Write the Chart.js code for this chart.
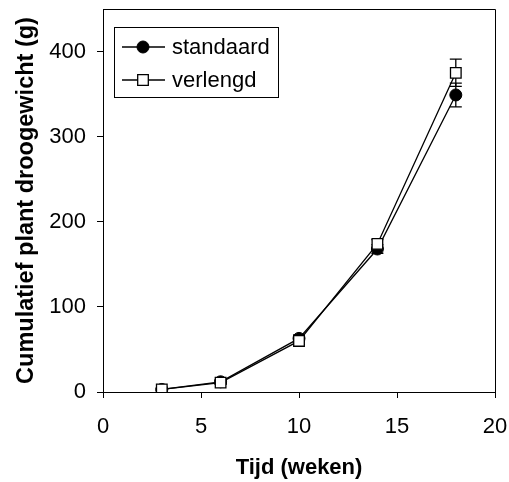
<!DOCTYPE html>
<html>
<head>
<meta charset="utf-8">
<script src="https://cdn.jsdelivr.net/npm/chart.js@4/dist/chart.umd.min.js"></script>
<style>
  html, body { margin: 0; padding: 0; background: #fff; }
  #wrap { width: 509px; height: 482px; }
</style>
</head>
<body>
<div id="wrap"><canvas id="chart" width="509" height="482"></canvas></div>
<script>
// data
const weeks = [3, 6, 10, 14, 18];
const standaard = [3, 12, 63, 168, 349];
const standaardErr = [1, 2, 4, 5, 14];
const verlengd = [3, 11, 60, 174, 375];
const verlengdErr = [1, 2, 4, 5, 16];
const xTicks = [0, 5, 10, 15, 20];
const yTicks = [0, 100, 200, 300, 400];

const FONT = "'Liberation Sans', Arial, sans-serif";

function points(ys) {
    return weeks.map((w, i) => ({ x: w, y: ys[i] }));
}

// error bars, drawn under the markers
const errorBars = {
    id: 'errorBars',
    beforeDatasetsDraw(chart) {
        const ctx = chart.ctx;
        const xs = chart.scales.x, ys = chart.scales.y;
        ctx.save();
        ctx.strokeStyle = '#000';
        ctx.lineWidth = 1.3;
        chart.data.datasets.forEach(ds => {
            ds.errors.forEach((e, i) => {
                const px = xs.getPixelForValue(weeks[i]);
                const top = ys.getPixelForValue(ds.data[i].y + e);
                const bot = ys.getPixelForValue(ds.data[i].y - e);
                ctx.beginPath();
                ctx.moveTo(px, top); ctx.lineTo(px, bot);
                ctx.moveTo(px - 6, top); ctx.lineTo(px + 6, top);
                ctx.moveTo(px - 6, bot); ctx.lineTo(px + 6, bot);
                ctx.stroke();
            });
        });
        ctx.restore();
    }
};

// box round the plot and the legend inside it
const frameAndLegend = {
    id: 'frameAndLegend',
    afterDraw(chart) {
        const ctx = chart.ctx;
        const a = chart.chartArea;
        ctx.save();
        ctx.strokeStyle = '#000';
        ctx.lineWidth = 1;
        ctx.beginPath();
        ctx.moveTo(Math.round(a.left) + 0.5, Math.round(a.top) + 0.5);
        ctx.lineTo(Math.round(a.right) + 0.5, Math.round(a.top) + 0.5);
        ctx.lineTo(Math.round(a.right) + 0.5, Math.round(a.bottom) + 0.5);
        ctx.stroke();

        // legend
        ctx.strokeRect(114.5, 27.5, 164, 70);
        const rows = [chart.data.datasets[1], chart.data.datasets[0]];
        const rowY = [47, 80];
        ctx.font = '22px ' + FONT;
        ctx.textBaseline = 'middle';
        rows.forEach((ds, i) => {
            const y = rowY[i];
            ctx.strokeStyle = '#000';
            ctx.lineWidth = 1.3;
            ctx.beginPath();
            ctx.moveTo(122, y); ctx.lineTo(165, y);
            ctx.stroke();
            ctx.fillStyle = ds.pointBackgroundColor;
            ctx.lineWidth = ds.pointBorderWidth;
            ctx.beginPath();
            if (ds.pointStyle === 'circle') {
                ctx.arc(143, y, ds.pointRadius, 0, Math.PI * 2);
            } else {
                const s = ds.pointRadius * Math.SQRT1_2;
                ctx.rect(143 - s, y - s, 2 * s, 2 * s);
            }
            ctx.fill();
            ctx.stroke();
            ctx.fillStyle = '#000';
            ctx.fillText(ds.label, 172, y + 1);
        });
        ctx.restore();
    }
};

new Chart(document.getElementById('chart'), {
    type: 'line',
    data: {
        datasets: [{
            label: 'verlengd',
            data: points(verlengd),
            errors: verlengdErr,
            borderColor: '#000',
            borderWidth: 1.3,
            pointStyle: 'rect',
            pointRadius: 7.5,
            pointBorderWidth: 1.3,
            pointBackgroundColor: '#fff',
            pointBorderColor: '#000',
            tension: 0
        }, {
            label: 'standaard',
            data: points(standaard),
            errors: standaardErr,
            borderColor: '#000',
            borderWidth: 1.3,
            pointStyle: 'circle',
            pointRadius: 6,
            pointBorderWidth: 1,
            pointBackgroundColor: '#000',
            pointBorderColor: '#000',
            tension: 0
        }]
    },
    options: {
        responsive: false,
        animation: false,
        layout: { padding: { top: 9, right: 14, bottom: 0, left: 0 } },
        plugins: {
            legend: { display: false },
            tooltip: { enabled: false }
        },
        scales: {
            x: {
                type: 'linear',
                min: 0,
                max: 20,
                afterBuildTicks(scale) { scale.ticks = xTicks.map(v => ({ value: v })); },
                afterFit(scale) {
                    scale.height = 90;
                    scale.paddingLeft = 0;
                    scale.paddingRight = 0;
                },
                grid: { drawOnChartArea: false, tickLength: 6, color: '#000', lineWidth: 1 },
                border: { color: '#000', width: 1 },
                ticks: { color: '#000', padding: 16, font: { family: FONT, size: 22 } },
                title: {
                    display: true,
                    text: 'Tijd (weken)',
                    color: '#000',
                    padding: { top: 0, bottom: 1 },
                    font: { family: FONT, size: 22, weight: 'bold' }
                }
            },
            y: {
                type: 'linear',
                min: 0,
                max: 450,
                afterBuildTicks(scale) { scale.ticks = yTicks.map(v => ({ value: v })); },
                afterFit(scale) {
                    scale.width = 103;
                    scale.paddingTop = 0;
                    scale.paddingBottom = 0;
                },
                grid: { drawOnChartArea: false, tickLength: 6, color: '#000', lineWidth: 1 },
                border: { color: '#000', width: 1 },
                ticks: { color: '#000', padding: 11, font: { family: FONT, size: 22 } },
                title: {
                    display: true,
                    text: 'Cumulatief plant droogewicht (g)',
                    color: '#000',
                    padding: { top: 12, bottom: 0 },
                    font: { family: FONT, size: 23.5, weight: 'bold' }
                }
            }
        }
    },
    plugins: [errorBars, frameAndLegend]
});
</script>
</body>
</html>
